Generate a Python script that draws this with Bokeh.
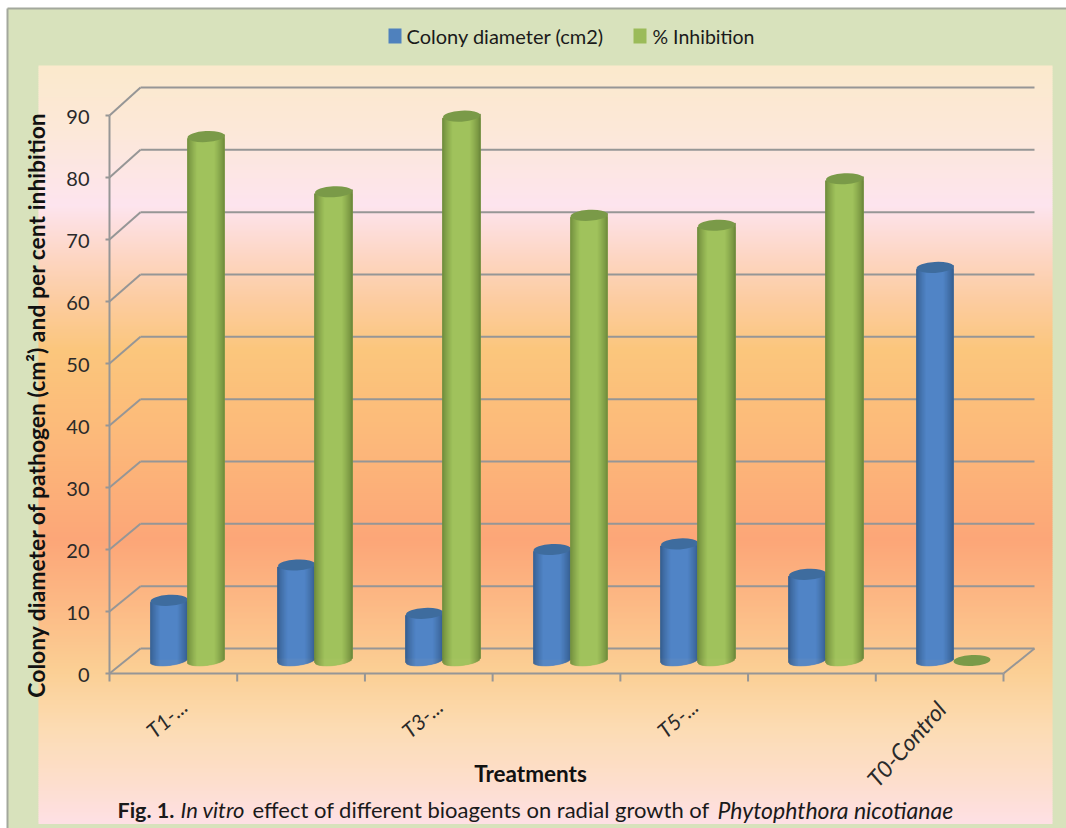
import numpy as np
from bokeh.core.properties import value
from bokeh.embed import file_html
from bokeh.models import ColumnDataSource
from bokeh.plotting import figure
from bokeh.resources import INLINE

# Chart data
categories = ["T1-...", "T2-...", "T3-...", "T4-...", "T5-...", "T6-...", "T0-Control"]
shown_labels = ["T1-...", "", "T3-...", "", "T5-...", "", "T0-Control"]
colony_diameter = [9.7, 15.4, 7.6, 17.9, 18.8, 13.9, 63.4]
inhibition = [84.5, 75.6, 87.8, 71.8, 70.2, 77.7, 0.0]
y_ticks = [0, 10, 20, 30, 40, 50, 60, 70, 80, 90]

WIDTH, HEIGHT = 1066, 828
AX_LEFT, AX_RIGHT, AX_ZERO = 109.0, 1003.0, 673.0
CAT_PX = (AX_RIGHT - AX_LEFT) / len(categories)
UNIT_PX = 6.2
FONT = "Lato"


def xd(px):
    """Pixel column to category units."""
    return (np.asarray(px, dtype=float) - AX_LEFT) / CAT_PX


def yd(px):
    """Pixel row to value units."""
    return (AX_ZERO - np.asarray(px, dtype=float)) / UNIT_PX


p = figure(
    width=WIDTH, height=HEIGHT, output_backend="svg", toolbar_location=None,
    x_range=(float(xd(0)), float(xd(WIDTH))), y_range=(float(yd(HEIGHT)), float(yd(0))),
    min_border=0, outline_line_color=None, background_fill_color="white",
    border_fill_color="white",
)
p.axis.visible = False
p.grid.visible = False

# Outer chart area and its thin frame
p.quad(left=[float(xd(7))], right=[float(xd(WIDTH))], bottom=[float(yd(HEIGHT))], top=[float(yd(8))],
       fill_color="#D8E2BC", line_color=None)
p.segment(x0=[float(xd(7)), float(xd(7))], y0=[float(yd(HEIGHT)), float(yd(8))],
          x1=[float(xd(7)), float(xd(WIDTH))], y1=[float(yd(8)), float(yd(8))],
          line_color="#A3A89C", line_width=2)

# Vertical gradient behind the plot
stops_px = [65, 130, 205, 255, 300, 350, 430, 540, 600, 670, 730, 780, 822]
stops_rgb = np.array([
    (251, 233, 204), (252, 232, 216), (253, 228, 238), (253, 214, 196), (252, 204, 160),
    (251, 198, 124), (252, 186, 122), (252, 166, 120), (252, 184, 132), (251, 207, 148),
    (252, 220, 180), (253, 222, 204), (254, 224, 228),
], dtype=float)
rows = np.arange(65, 822, 2)
row_colors = ["#%02x%02x%02x" % tuple(int(round(np.interp(r + 1, stops_px, stops_rgb[:, k]))) for k in range(3))
              for r in rows]
p.quad(left=float(xd(38)), right=float(xd(1052)), top=yd(rows), bottom=yd(rows + 2.4),
       fill_color=row_colors, line_color=None)

# Walls: back gridlines, side diagonals, floor and axes
GRID = "#969696"
BACK_DX = 31.0
ticks = np.array(y_ticks, dtype=float)
back_y = yd(648.0 - 6.233 * ticks)
p.segment(x0=float(xd(AX_LEFT + BACK_DX)), y0=back_y, x1=float(xd(AX_RIGHT + BACK_DX)), y1=back_y,
          line_color=GRID, line_width=2)
p.segment(x0=float(xd(AX_LEFT)), y0=ticks, x1=float(xd(AX_LEFT + BACK_DX)), y1=back_y,
          line_color=GRID, line_width=2)
p.segment(x0=[0.0, 0.0, float(len(categories))], y0=[0.0, 0.0, 0.0],
          x1=[0.0, float(len(categories)), float(xd(AX_RIGHT + BACK_DX))], y1=[90.0, 0.0, float(back_y[0])],
          line_color=GRID, line_width=2)
p.segment(x0=float(xd(AX_LEFT - 4)), y0=ticks, x1=float(xd(AX_LEFT)), y1=ticks, line_color=GRID, line_width=2)
cat_edges = np.arange(len(categories) + 1, dtype=float)
p.segment(x0=cat_edges, y0=0.0, x1=cat_edges, y1=float(yd(AX_ZERO + 8)), line_color=GRID, line_width=2)

# Cylinders
BAR_W = 37.0
DEPTH_PX = 13.0
RY = 5.0
TILT = 2.0


def shade(t, dark, light):
    k = np.clip((1 - abs(t)) / 0.55, 0, 1) ** 0.8
    return "#%02x%02x%02x" % tuple(int(round(d + (l - d) * k)) for d, l in zip(dark, light))


def cylinders(vals, side, dark, light, cap):
    for i, v in enumerate(vals):
        cx = AX_LEFT + CAT_PX * (i + 0.5) + 14.0 + side * BAR_W / 2
        cx = round(cx * 2) / 2
        if v > 0:
            # Opaque underlay, then whole-pixel shading strips
            cols = np.arange(np.floor(cx - BAR_W / 2), np.ceil(cx + BAR_W / 2), 1.0)
            t = np.clip((cols + 0.5 - cx) / (BAR_W / 2), -1, 1)
            sag = RY * np.sqrt(np.clip(1 - t ** 2, 0, 1)) - TILT * t
            base = DEPTH_PX / UNIT_PX - sag / UNIT_PX
            tops = v + DEPTH_PX / UNIT_PX + TILT * t / UNIT_PX
            p.quad(left=[float(xd(cols[0]))], right=[float(xd(cols[-1] + 1))],
                   bottom=[float(base.max())], top=[float(tops.min())],
                   fill_color="#%02x%02x%02x" % light, line_color=None)
            src = ColumnDataSource(dict(
                left=xd(cols), right=xd(cols + 1), bottom=base, top=tops,
                color=[shade(a, dark, light) for a in t],
            ))
            p.quad(left="left", right="right", bottom="bottom", top="top", fill_color="color",
                   line_color="color", line_width=0.6, source=src)
        p.ellipse(x=[float(xd(cx))], y=[v + DEPTH_PX / UNIT_PX], width=[BAR_W], height=[2 * RY + 1],
                  width_units="screen", height_units="screen", angle=0.055,
                  fill_color=cap, line_color=None)


cylinders(colony_diameter, -1, (52, 92, 140), (80, 132, 198), "#3E6C9E")
cylinders(inhibition, 1, (108, 136, 58), (160, 194, 92), "#7A9A48")


# Text helpers
def put(x, y, s, size, **kw):
    kw.setdefault("text_align", "left")
    kw.setdefault("text_baseline", "middle")
    kw.setdefault("text_color", "#1A1A1A")
    p.text(x=[float(x)], y=[float(y)], text=[s], text_font=value(FONT), text_font_size=f"{size}px", **kw)


# Value axis labels
p.text(x=float(xd(89)), y=ticks - 0.3, text=[str(v) for v in y_ticks], text_align="right",
       text_baseline="middle", text_font=value(FONT), text_font_size="20px", text_color="#2A2A2A")

# Category labels, slanted and ending under each slot
for i, lab in enumerate(shown_labels):
    if lab:
        is_long = len(lab) > 6
        put(i + 0.5 + (-9.0 if is_long else 2.0) / CAT_PX, yd(695 if is_long else 693), lab,
            23 if is_long else 21, text_align="right", text_baseline="top",
            angle=0.84 if is_long else 0.72, text_font_style="italic", text_color="#2A2A2A")

# Titles
put(xd(35), (yd(113) + yd(695)) / 2, "Colony diameter of pathogen (cm²) and per cent inhibition", 22.9,
    text_align="center", angle=np.pi / 2, text_font_style="bold", text_color="#111111")
put(xd(530), yd(773), "Treatments", 22.5, text_align="center", text_font_style="bold", text_color="#111111")

# Caption
put(xd(117), yd(809), "Fig. 1.", 21.5, text_font_style="bold")
put(xd(180), yd(809), "In vitro", 22, text_font_style="italic")
put(xd(252), yd(809), "effect of different bioagents on radial growth of", 22)
put(xd(717), yd(809), "Phytophthora nicotianae", 23, text_font_style="italic")

# Legend
p.quad(left=float(xd(388)), right=float(xd(401)), top=float(yd(28)), bottom=float(yd(43)),
       fill_color="#4F81BD", line_color=None)
put(xd(406), yd(35.5), "Colony diameter (cm2)", 20)
p.quad(left=float(xd(633)), right=float(xd(646)), top=float(yd(28)), bottom=float(yd(43)),
       fill_color="#9BBB59", line_color=None)
put(xd(652), yd(35.5), "% Inhibition", 19.5)

open("out.html", "w").write(file_html(p, INLINE))
